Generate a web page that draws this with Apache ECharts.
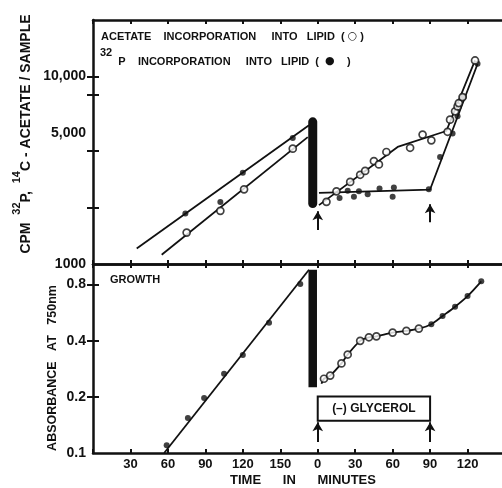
<!DOCTYPE html>
<html>
<head>
<meta charset="utf-8">
<script src="https://cdn.jsdelivr.net/npm/echarts@6/dist/echarts.min.js"></script>
<style>
html, body { margin: 0; padding: 0; background: #fff; }
#chart { width: 502px; height: 488px; }
</style>
</head>
<body>
<div id="chart"></div>
<script>
// post-phase minutes are drawn after the pre-phase on one continuous time axis
var SHIFT = 180;
var FONT = '"Liberation Sans", Arial, sans-serif';
var INK = '#111';

// top panel: pre-phase (before the bar)
var acetatePreT = [75, 102, 121, 160];
var acetatePreV = [1470, 1920, 2500, 4120];
var p32PreT = [74, 102, 120, 160];
var p32PreV = [1860, 2140, 3070, 4700];
var acetatePreFitT = [55, 172];
var acetatePreFitV = [1120, 4750];
var p32PreFitT = [35, 173];
var p32PreFitV = [1210, 5490];

// top panel: post-phase (minutes after transfer)
var acetatePostT = [7, 15, 26, 34, 38, 45, 49, 55, 74, 84, 91, 104, 106, 110, 112, 113, 116, 126];
var acetatePostV = [2145, 2440, 2740, 2990, 3135, 3540, 3395, 3955, 4165, 4900, 4565, 5070, 5885, 6515, 6920, 7210, 7760, 12170];
var acetatePostFitT = [1, 64, 103, 126];
var acetatePostFitV = [2060, 4210, 5120, 12170];
var p32PostT = [17.5, 24, 29, 33, 40, 49.5, 60, 61, 89, 98, 108, 112, 117, 128];
var p32PostV = [2250, 2455, 2280, 2445, 2355, 2525, 2280, 2560, 2500, 3720, 4960, 6130, 7760, 11680];
var p32PostFitT = [1, 90, 128];
var p32PostFitV = [2395, 2495, 11650];

// bottom panel: growth (absorbance)
var growthPreT = [59, 76, 89, 105, 120, 141, 166];
var growthPreV = [0.110, 0.154, 0.197, 0.266, 0.335, 0.499, 0.805];
var growthPreFitT = [57, 173];
var growthPreFitV = [0.1, 0.96];
var growthOpenT = [5, 10, 19, 24, 34, 41, 47, 60, 71, 81];
var growthOpenV = [0.250, 0.260, 0.302, 0.337, 0.399, 0.417, 0.422, 0.442, 0.451, 0.464];
var growthFilledT = [91, 100, 110, 120, 131];
var growthFilledV = [0.490, 0.542, 0.608, 0.693, 0.832];
var growthCurveStart = [3, 0.235];

// transfer bar, arrows and (-) glycerol box
var barT = 176;
var topBarV = [2100, 5730];
var bottomBarV = [0.225, 0.96];
var topArrows = [[0, 1516, 1913], [90, 1672, 2085]];
var bottomArrows = [[0, 0.1144, 0.146], [90, 0.1144, 0.146]];
var glycerolBox = [0, 90, 0.149, 0.201];

// ticks and labels
var topTicks = [2000, 4000, 8000, 10000];
var topLabels = [1000, 5000, 10000];
var topLabelText = ['1000', '5,000', '10,000'];
var bottomTicks = [0.2, 0.4, 0.8];
var bottomLabels = [0.1, 0.2, 0.4, 0.8];

function pairs(ts, vs, shift) {
    return ts.map(function (t, i) { return [t + (shift || 0), vs[i]]; });
}

var chart = echarts.init(document.getElementById('chart'));

var axisLine = { show: true, lineStyle: { color: INK, width: 2.5 } };
function xAx(grid, pos, labels) {
    return {
        type: 'value', gridIndex: grid, position: pos, min: 0, max: 330, interval: 30,
        axisLine: axisLine,
        axisTick: { show: true, inside: true, length: 4, lineStyle: { color: INK, width: 2 } },
        axisLabel: labels ? {
            show: true, color: INK, fontFamily: FONT, fontWeight: 'bold', fontSize: 13, margin: 5,
            formatter: function (v) {
                if (v === 0 || v > 300) return '';
                return v <= 150 ? String(v) : String(v - SHIFT);
            }
        } : { show: false },
        splitLine: { show: false }
    };
}

function fit(x, y, data) {
    return {
        type: 'line', xAxisIndex: x, yAxisIndex: y, data: data, showSymbol: false,
        lineStyle: { color: INK, width: 1.8 }, silent: true, z: 2
    };
}
function pts(x, y, data, filled, size) {
    return {
        type: 'scatter', xAxisIndex: x, yAxisIndex: y, data: data,
        symbol: 'circle', symbolSize: size, z: 3,
        itemStyle: filled ? { color: INK } : { color: '#fff', borderColor: INK, borderWidth: 1.7 }
    };
}
function arrowLines(list) {
    return list.map(function (a) {
        return [{ coord: [a[0] + SHIFT, a[1]] }, { coord: [a[0] + SHIFT, a[2]] }];
    });
}

var richBase = { fontSize: 11, fontWeight: 'bold', fontFamily: FONT, fill: INK, verticalAlign: 'bottom', lineHeight: 18 };

chart.setOption({
    backgroundColor: '#fff',
    animation: false,
    grid: [
        { left: 93, top: 20, width: 412, height: 244, outerBoundsMode: 'none', containLabel: false },
        { left: 93, top: 264, width: 412, height: 189, outerBoundsMode: 'none', containLabel: false }
    ],
    xAxis: [
        xAx(0, 'bottom', false),
        xAx(0, 'top', false),
        xAx(1, 'bottom', true),
        xAx(1, 'top', false)
    ],
    yAxis: [
        {
            type: 'log', gridIndex: 0, position: 'left', min: 1000, max: 20000, logBase: 10,
            axisLine: axisLine,
            axisTick: { show: true, inside: true, length: 6, customValues: topTicks, lineStyle: { color: INK, width: 2 } },
            axisLabel: {
                show: true, customValues: topLabels, color: INK, fontFamily: FONT, fontWeight: 'bold', fontSize: 14, margin: 7,
                formatter: function (v) { return topLabelText[topLabels.indexOf(Math.round(v))] || ''; }
            },
            splitLine: { show: false }, minorTick: { show: false }
        },
        {
            type: 'log', gridIndex: 0, position: 'right', min: 1000, max: 20000, logBase: 10,
            axisLine: { show: false },
            axisTick: { show: true, inside: true, length: 6, customValues: topTicks, lineStyle: { color: INK, width: 2 } },
            axisLabel: { show: false }, splitLine: { show: false }
        },
        {
            type: 'log', gridIndex: 1, position: 'left', min: 0.1, max: 1.03, logBase: 10,
            axisLine: axisLine,
            axisTick: { show: true, inside: true, length: 6, customValues: bottomTicks, lineStyle: { color: INK, width: 2 } },
            axisLabel: {
                show: true, customValues: bottomLabels, color: INK, fontFamily: FONT, fontWeight: 'bold', fontSize: 14, margin: 7,
                formatter: function (v) { return (Math.round(v * 10) / 10).toFixed(1); }
            },
            splitLine: { show: false }, minorTick: { show: false }
        },
        {
            type: 'log', gridIndex: 1, position: 'right', min: 0.1, max: 1.03, logBase: 10,
            axisLine: { show: false },
            axisTick: { show: true, inside: true, length: 6, customValues: bottomTicks, lineStyle: { color: INK, width: 2 } },
            axisLabel: { show: false }, splitLine: { show: false }
        }
    ],
    series: [
        // top panel fits
        fit(0, 0, pairs(acetatePreFitT, acetatePreFitV)),
        fit(0, 0, pairs(p32PreFitT, p32PreFitV)),
        fit(0, 0, pairs(acetatePostFitT, acetatePostFitV, SHIFT)),
        fit(0, 0, pairs(p32PostFitT, p32PostFitV, SHIFT)),
        // top panel points
        pts(0, 0, pairs(p32PreT, p32PreV).concat(pairs(p32PostT, p32PostV, SHIFT)), true, 6),
        pts(0, 0, pairs(acetatePreT, acetatePreV).concat(pairs(acetatePostT, acetatePostV, SHIFT)), false, 7),
        // top transfer bar + arrows
        {
            type: 'line', xAxisIndex: 0, yAxisIndex: 0, showSymbol: false, silent: true, z: 4,
            data: [[barT, topBarV[0]], [barT, topBarV[1]]],
            lineStyle: { color: INK, width: 9, cap: 'round' },
            markLine: {
                silent: true, symbol: ['none', 'arrow'], symbolSize: [8, 9], label: { show: false },
                lineStyle: { color: INK, width: 2, type: 'solid' },
                data: arrowLines(topArrows)
            }
        },
        // bottom panel
        fit(2, 2, pairs(growthPreFitT, growthPreFitV)),
        {
            type: 'line', xAxisIndex: 2, yAxisIndex: 2, showSymbol: false, silent: true, z: 2,
            smooth: 0.3,
            data: [[growthCurveStart[0] + SHIFT, growthCurveStart[1]]]
                .concat(pairs(growthOpenT, growthOpenV, SHIFT))
                .concat(pairs(growthFilledT, growthFilledV, SHIFT)),
            lineStyle: { color: INK, width: 1.8 }
        },
        pts(2, 2, pairs(growthPreT, growthPreV).concat(pairs(growthFilledT, growthFilledV, SHIFT)), true, 6),
        pts(2, 2, pairs(growthOpenT, growthOpenV, SHIFT), false, 7),
        {
            type: 'line', xAxisIndex: 2, yAxisIndex: 2, showSymbol: false, silent: true, z: 4,
            data: [[barT, bottomBarV[0]], [barT, bottomBarV[1]]],
            lineStyle: { color: INK, width: 8.5, cap: 'butt' },
            markLine: {
                silent: true, symbol: ['none', 'arrow'], symbolSize: [8, 9], label: { show: false },
                lineStyle: { color: INK, width: 2, type: 'solid' },
                data: arrowLines(bottomArrows)
            },
            markArea: {
                silent: true,
                itemStyle: { color: '#fff', borderColor: INK, borderWidth: 2 },
                label: {
                    show: true, position: 'inside', color: INK, fontFamily: FONT,
                    fontWeight: 'bold', fontSize: 12, formatter: '(\u2013) GLYCEROL'
                },
                data: [[
                    { coord: [glycerolBox[0] + SHIFT, glycerolBox[2]] },
                    { coord: [glycerolBox[1] + SHIFT, glycerolBox[3]] }
                ]]
            }
        }
    ],
    graphic: [
        {
            type: 'text', left: 101, top: 31,
            style: {
                text: '{t|ACETATE    INCORPORATION     INTO   LIPID  ( }{o|\u25CB}{t| )}',
                rich: {
                    t: richBase,
                    o: { fontSize: 11, fontWeight: 'bold', fontFamily: '"DejaVu Sans"', fill: INK, verticalAlign: 'bottom', lineHeight: 18 }
                }
            }
        },
        {
            type: 'text', left: 100, top: 47,
            style: {
                text: '{s|32}{t|  P    INCORPORATION     INTO   LIPID  (  }{o|\u25CF}{t|    )}',
                rich: {
                    s: { fontSize: 11, fontWeight: 'bold', fontFamily: FONT, fill: INK, verticalAlign: 'top', lineHeight: 20 },
                    t: { fontSize: 11, fontWeight: 'bold', fontFamily: FONT, fill: INK, verticalAlign: 'bottom', lineHeight: 20 },
                    o: { fontSize: 11, fontWeight: 'bold', fontFamily: '"DejaVu Sans"', fill: INK, verticalAlign: 'bottom', lineHeight: 20 }
                }
            }
        },
        {
            type: 'text', left: 110, top: 274,
            style: { text: 'GROWTH', fill: INK, font: 'bold 11px ' + FONT }
        },
        {
            type: 'text', x: 22, y: 134, rotation: Math.PI / 2,
            style: {
                text: '{t|CPM  }{s|32}{t|P,  }{s|14}{t|C - ACETATE / SAMPLE}',
                align: 'center', verticalAlign: 'middle',
                rich: {
                    s: { fontSize: 11, fontWeight: 'bold', fontFamily: FONT, fill: INK, verticalAlign: 'top', lineHeight: 22 },
                    t: { fontSize: 14, fontWeight: 'bold', fontFamily: FONT, fill: INK, verticalAlign: 'bottom', lineHeight: 22 }
                }
            }
        },
        {
            type: 'text', x: 53, y: 368, rotation: Math.PI / 2,
            style: { text: 'ABSORBANCE   AT   750nm', fill: INK, font: 'bold 12.5px ' + FONT, align: 'center', verticalAlign: 'middle' }
        },
        {
            type: 'text', x: 303, y: 480,
            style: { text: 'TIME      IN      MINUTES', fill: INK, font: 'bold 13px ' + FONT, align: 'center', verticalAlign: 'middle' }
        }
    ]
});
</script>
</body>
</html>
